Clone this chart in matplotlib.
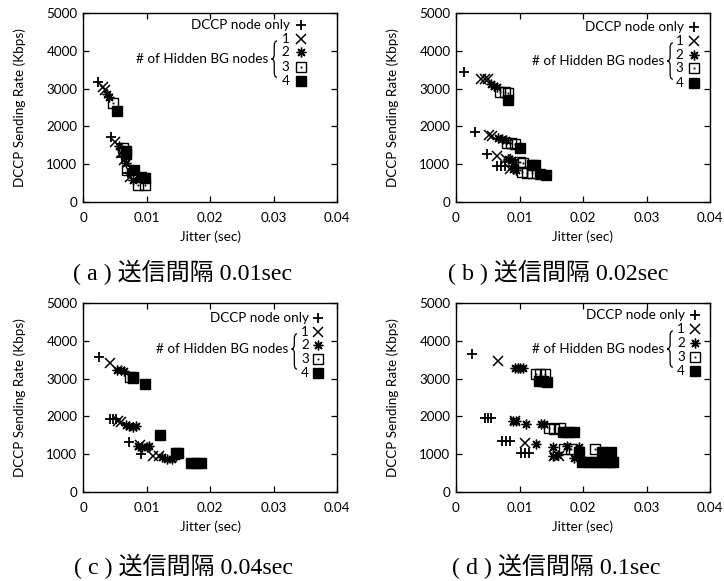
import matplotlib
matplotlib.use("Agg")
import matplotlib.pyplot as plt
from matplotlib.path import Path
from matplotlib.patches import PathPatch

plt.rcParams["font.family"] = ["Lato", "DejaVu Sans"]

# Series labels (number of hidden background nodes; 0 = DCCP node only)
series_names = ["DCCP node only", "1", "2", "3", "4"]
legend_title = "# of Hidden BG nodes"
x_label = "Jitter (sec)"
y_label = "DCCP Sending Rate (Kbps)"
x_ticks = [0, 0.01, 0.02, 0.03, 0.04]
x_tick_labels = ["0", "0.01", "0.02", "0.03", "0.04"]
y_ticks = [0, 1000, 2000, 3000, 4000, 5000]
captions = ["( a ) 送信間隔 0.01sec", "( b ) 送信間隔 0.02sec",
            "( c ) 送信間隔 0.04sec", "( d ) 送信間隔 0.1sec"]

# ---- (a) send interval 0.01 sec: jitter [sec] / rate [Kbps] per series
jitter_a = {
    0: [0.0023, 0.0044, 0.0061, 0.0071],
    1: [0.0031, 0.0035, 0.0050, 0.0060, 0.0064, 0.0074],
    2: [0.0038, 0.0041, 0.0056, 0.0067, 0.0079],
    3: [0.0047, 0.0063, 0.0070, 0.0086, 0.0097],
    4: [0.0054, 0.0068, 0.0068, 0.0080, 0.0092, 0.0097],
}
rate_a = {
    0: [3170, 1710, 1200, 760],
    1: [3030, 2960, 1600, 1300, 1110, 670],
    2: [2850, 2790, 1470, 1020, 590],
    3: [2610, 1420, 850, 460, 460],
    4: [2420, 1340, 1270, 850, 660, 640],
}

# ---- (b) send interval 0.02 sec
jitter_b = {
    0: [0.0013, 0.0030, 0.0049, 0.0065, 0.0071, 0.0077],
    1: [0.0040, 0.0046, 0.0051, 0.0052, 0.0057, 0.0064, 0.0078, 0.0085],
    2: [0.0055, 0.0060, 0.0065, 0.0066, 0.0072, 0.0078, 0.0082, 0.0088,
        0.0092, 0.0090, 0.0095],
    3: [0.0070, 0.0077, 0.0082, 0.0080, 0.0087, 0.0093, 0.0100, 0.0106,
        0.0104, 0.0112, 0.0120],
    4: [0.0082, 0.0100, 0.0120, 0.0125, 0.0133, 0.0142],
}
rate_b = {
    0: [3450, 1860, 1260, 940, 940, 940],
    1: [3260, 3260, 3250, 1760, 1740, 1210, 1150, 880],
    2: [3120, 3080, 3040, 1680, 1660, 1650, 1150, 1100, 1050, 880, 850],
    3: [2920, 2900, 2880, 1570, 1560, 1540, 1060, 1040, 790, 780, 770],
    4: [2690, 1440, 970, 980, 740, 710],
}

# ---- (c) send interval 0.04 sec
jitter_c = {
    0: [0.0025, 0.0043, 0.0047, 0.0052, 0.0072, 0.0091],
    1: [0.0042, 0.0055, 0.0060, 0.0090, 0.0110, 0.0120],
    2: [0.0054, 0.0060, 0.0065, 0.0068, 0.0072, 0.0078, 0.0083, 0.0087,
        0.0093, 0.0100, 0.0104, 0.0125, 0.0133, 0.0140, 0.0146],
    3: [0.0074, 0.0078],
    4: [0.0079, 0.0098, 0.0121, 0.0146, 0.0150, 0.0170, 0.0178, 0.0186],
}
rate_c = {
    0: [3580, 1930, 1940, 1920, 1320, 1000],
    1: [3410, 1880, 1840, 1250, 960, 950],
    2: [3220, 3230, 3200, 1780, 1740, 1720, 1740, 1230, 1180, 1200, 1210,
        920, 880, 870, 940],
    3: [3050, 3030],
    4: [3020, 2850, 1520, 1020, 1040, 770, 770, 770],
}

# ---- (d) send interval 0.1 sec
jitter_d = {
    0: [0.0025, 0.0045, 0.0050, 0.0055, 0.0072, 0.0078, 0.0085, 0.0102,
        0.0108, 0.0115],
    1: [0.0066, 0.0093, 0.0108, 0.0155, 0.0162],
    2: [0.0093, 0.0097, 0.0101, 0.0106, 0.0090, 0.0095, 0.0111, 0.0134,
        0.0138, 0.0126, 0.0153, 0.0175, 0.0193, 0.0152, 0.0160, 0.0186,
        0.0196],
    3: [0.0126, 0.0133, 0.0140, 0.0146, 0.0155, 0.0163, 0.0170, 0.0181,
        0.0219],
    4: [0.0130, 0.0137, 0.0144, 0.0168, 0.0176, 0.0186, 0.0194, 0.0230,
        0.0244, 0.0210, 0.0218, 0.0226, 0.0234, 0.0242, 0.0248, 0.0198],
}
rate_d = {
    0: [3650, 1970, 1970, 1970, 1350, 1350, 1350, 1040, 1040, 1040],
    1: [3470, 1890, 1290, 960, 960],
    2: [3290, 3270, 3290, 3280, 1880, 1890, 1790, 1790, 1790, 1280, 1200,
        1220, 1200, 960, 970, 900, 920],
    3: [3110, 3110, 3120, 1690, 1670, 1680, 1140, 1140, 1140],
    4: [2930, 2930, 2920, 1590, 1590, 1590, 1060, 1060, 1060, 800, 800,
        800, 800, 800, 800, 800],
}

panels = [(jitter_a, rate_a), (jitter_b, rate_b),
          (jitter_c, rate_c), (jitter_d, rate_d)]

# gnuplot-like point types
styles = {
    0: dict(marker="+", ms=7.5, mew=1.3, mfc="none"),
    1: dict(marker="x", ms=6.5, mew=1.1, mfc="none"),
    2: dict(marker=(8, 2, 0), ms=7.0, mew=1.0, mfc="none"),
    3: dict(marker="s", ms=6.5, mew=1.0, mfc="none"),
    4: dict(marker="s", ms=6.5, mew=1.0, mfc="black"),
}


def draw_point(ax, x, y, k, **kw):
    st = styles[k]
    ax.plot(x, y, ls="none", color="black", mec="black", **st, **kw)
    if k == 3:
        ax.plot(x, y, ls="none", marker="s", ms=1.3, mew=0, color="black", **kw)


def draw_brace(ax, xt, yt, ym, yb, w=0.022, ry=0.025):
    xa = xt + w
    xm = xt + w / 2
    verts = [(xa, yt), (xm, yt), (xm, yt - ry), (xm, ym + ry),
             (xm, ym), (xt, ym), (xm, ym), (xm, ym - ry),
             (xm, yb + ry), (xm, yb), (xa, yb)]
    codes = [Path.MOVETO, Path.CURVE3, Path.CURVE3, Path.LINETO,
             Path.CURVE3, Path.CURVE3, Path.CURVE3, Path.CURVE3,
             Path.LINETO, Path.CURVE3, Path.CURVE3]
    ax.add_patch(PathPatch(Path(verts, codes), fc="none", ec="black",
                           lw=0.9, transform=ax.transAxes, clip_on=False))


# key placement in axes fraction: marker x, text right, title right, brace tip, rows, title y
key_layout = [
    (0.858, 0.813, 0.728, 0.742, [0.937, 0.862, 0.794, 0.714, 0.640], 0.757),
    (0.937, 0.896, 0.819, 0.832, [0.926, 0.852, 0.778, 0.709, 0.630], 0.746),
    (0.925, 0.890, 0.807, 0.821, [0.921, 0.847, 0.778, 0.704, 0.630], 0.757),
    (0.941, 0.902, 0.819, 0.832, [0.937, 0.862, 0.788, 0.714, 0.640], 0.757),
]

W, H = 724, 581
fig = plt.figure(figsize=(W / 100, H / 100), dpi=100)
ax_w, ax_h = 254 / W, 189 / H
lefts = [83 / W, 456 / W, 83 / W, 456 / W]
bottoms = [(H - 202) / H, (H - 202) / H, (H - 492) / H, (H - 492) / H]
caption_xy = [(183 / W, 1 - 272 / H), (558 / W, 1 - 272 / H),
              (183 / W, 1 - 566 / H), (556 / W, 1 - 566 / H)]

fs = 9.7
for i, (jit, rate) in enumerate(panels):
    ax = fig.add_axes([lefts[i], bottoms[i], ax_w, ax_h])
    for k in range(5):
        draw_point(ax, jit[k], rate[k], k)
    ax.set_xlim(0, 0.04)
    ax.set_ylim(0, 5000)
    ax.set_xticks(x_ticks)
    ax.set_xticklabels(x_tick_labels)
    ax.set_yticks(y_ticks)
    ax.tick_params(direction="in", length=4.5, width=0.9, top=True,
                   right=True, labelsize=fs, color="black")
    ax.tick_params(axis="x", pad=7)
    ax.tick_params(axis="y", pad=4)
    for sp in ax.spines.values():
        sp.set_linewidth(1.0)
    ax.set_xlabel(x_label, fontsize=fs, va="center")
    ax.xaxis.set_label_coords(0.5, -0.185)
    ax.set_ylabel(y_label, fontsize=fs, va="center")
    ax.yaxis.set_label_coords(-0.25, 0.5)

    mx, tx, hx, bx, rows, hy = key_layout[i]
    for k in range(5):
        ax.text(tx, rows[k], series_names[k], transform=ax.transAxes,
                ha="right", va="center", fontsize=fs)
        draw_point(ax, [mx], [rows[k]], k, transform=ax.transAxes,
                   clip_on=False)
    ax.text(hx, hy, legend_title, transform=ax.transAxes, ha="right",
            va="center", fontsize=fs)
    draw_brace(ax, bx, rows[1] - 0.01, hy, rows[4] + 0.02)

    cx, cy = caption_xy[i]
    fig.text(cx, cy, captions[i], ha="center", va="center", fontsize=17.3,
             family=["Liberation Serif", "Noto Sans CJK JP"])

fig.savefig("out.png", dpi=100)
